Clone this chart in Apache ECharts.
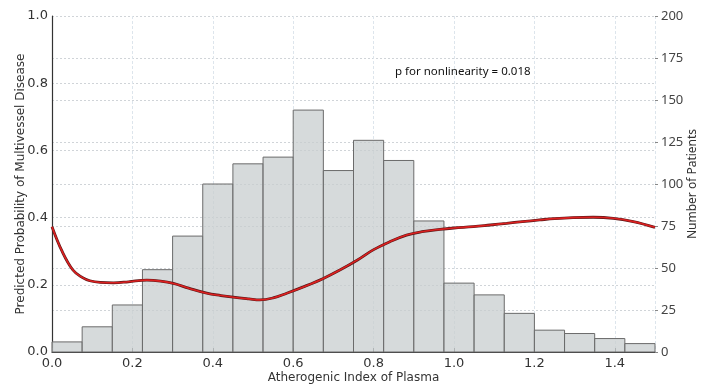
<!DOCTYPE html>
<html>
<head>
<meta charset="utf-8">
<script src="https://cdn.jsdelivr.net/npm/echarts@6/dist/echarts.min.js"></script>
<style>
  html, body { margin: 0; padding: 0; background: #fff; }
  #chart { width: 706px; height: 385px; }
</style>
</head>
<body>
<div id="chart"></div>
<script>
// histogram: bin width 0.075 from 0 to 1.5
const binEdges = [0, 0.075, 0.15, 0.225, 0.3, 0.375, 0.45, 0.525, 0.6, 0.675, 0.75,
  0.825, 0.9, 0.975, 1.05, 1.125, 1.2, 1.275, 1.35, 1.425, 1.5];
const patientCounts = [6, 15, 28, 49, 69, 100, 112, 116, 144, 108, 126,
  114, 78, 41, 34, 23, 13, 11, 8, 5];

// fitted curve
const curveX = [0, 0.025, 0.052, 0.075, 0.094, 0.12, 0.153, 0.19, 0.236, 0.27, 0.302, 0.34,
  0.385, 0.42, 0.451, 0.49, 0.517, 0.55, 0.584, 0.63, 0.675, 0.716, 0.76, 0.799, 0.84,
  0.882, 0.92, 0.965, 1.0, 1.048, 1.09, 1.131, 1.17, 1.213, 1.25, 1.296, 1.346,
  1.396, 1.446, 1.5];
const curveY = [0.373, 0.3, 0.244, 0.222, 0.212, 0.207, 0.206, 0.209, 0.214, 0.211, 0.204, 0.19,
  0.175, 0.168, 0.163, 0.158, 0.155, 0.161, 0.175, 0.196, 0.219, 0.244, 0.274, 0.304, 0.328,
  0.348, 0.358, 0.365, 0.369, 0.373, 0.378, 0.383, 0.388, 0.393, 0.397, 0.4, 0.401,
  0.398, 0.388, 0.371];

const xTickLabels = ['0.0', '0.2', '0.4', '0.6', '0.8', '1.0', '1.2', '1.4'];

const barData = patientCounts.map((c, i) => [binEdges[i], binEdges[i + 1], c]);
const lineData = curveX.map((x, i) => [x, curveY[i]]);

const chart = echarts.init(document.getElementById('chart'));

const gridLine = { show: true, lineStyle: { color: '#d0d4d8', type: [2, 2], width: 1 } };

chart.setOption({
  animation: false,
  grid: { left: 52, right: 51, top: 16, bottom: 33, outerBoundsMode: 'none' },
  xAxis: {
    type: 'value',
    min: 0, max: 1.5, interval: 0.2,
    name: 'Atherogenic Index of Plasma',
    nameLocation: 'middle',
    nameGap: 20,
    nameMoveOverlap: false,
    nameTextStyle: { fontFamily: 'DejaVu Sans', fontSize: 12, color: '#333' },
    axisLine: { show: true, lineStyle: { color: '#333', width: 1.2 } },
    axisTick: { show: true, inside: true, length: 4, lineStyle: { color: '#666' } },
    axisLabel: {
      margin: 5,
      fontFamily: 'DejaVu Sans', fontSize: 13, color: '#333',
      showMaxLabel: false,
      formatter: v => {
        const idx = Math.round(v / 0.2);
        return Math.abs(v - idx * 0.2) < 1e-6 ? (xTickLabels[idx] || '') : '';
      }
    },
    splitLine: { show: true, lineStyle: { color: '#dde5ec', type: [3, 2], width: 1 } }
  },
  yAxis: [
    {
      type: 'value',
      min: 0, max: 1, interval: 0.2,
      name: 'Predicted Probability of Multivessel Disease',
      nameLocation: 'middle',
      nameGap: 25,
      nameMoveOverlap: false,
      nameTextStyle: { fontFamily: 'DejaVu Sans', fontSize: 12, color: '#333' },
      axisLine: { show: true, lineStyle: { color: '#333', width: 1.2 } },
      axisTick: { show: false },
      axisLabel: {
        margin: 4, fontFamily: 'DejaVu Sans', fontSize: 13, color: '#333',
        formatter: v => v.toFixed(1)
      },
      splitLine: gridLine
    },
    {
      type: 'value',
      min: 0, max: 200, interval: 25,
      name: 'Number of Patients',
      nameLocation: 'middle',
      nameGap: 32,
      nameRotate: 90,
      nameMoveOverlap: false,
      nameTextStyle: { fontFamily: 'Noto Sans', fontSize: 12, color: '#333' },
      axisLine: { show: false },
      axisTick: { show: true, length: 3, lineStyle: { color: '#888' } },
      axisLabel: { margin: 6, fontFamily: 'Noto Sans', fontSize: 13, color: '#444' },
      splitLine: gridLine
    }
  ],
  series: [
    {
      type: 'custom',
      yAxisIndex: 1,
      data: barData,
      encode: { x: [0, 1], y: 2 },
      renderItem: (params, api) => {
        const p0 = api.coord([api.value(0), api.value(2)]);
        const p1 = api.coord([api.value(1), 0]);
        return {
          type: 'rect',
          shape: { x: p0[0], y: p0[1], width: p1[0] - p0[0], height: p1[1] - p0[1] },
          style: { fill: 'rgba(200,205,207,0.75)', stroke: '#6b6b6b', lineWidth: 1 }
        };
      },
      z: 2
    },
    {
      type: 'line',
      yAxisIndex: 0,
      data: lineData,
      smooth: 0.4,
      showSymbol: false,
      lineStyle: { color: '#5a1818', width: 2.8 },
      z: 3
    },
    {
      type: 'line',
      yAxisIndex: 0,
      data: lineData,
      smooth: 0.4,
      showSymbol: false,
      lineStyle: { color: '#dc2020', width: 1.6 },
      z: 4
    }
  ],
  graphic: [
    {
      type: 'text',
      left: 395, top: 66,
      style: {
        text: 'p for nonlinearity = 0.018',
        fontFamily: 'Noto Sans', fontSize: 11.5, fill: '#111'
      }
    }
  ]
});
</script>
</body>
</html>
